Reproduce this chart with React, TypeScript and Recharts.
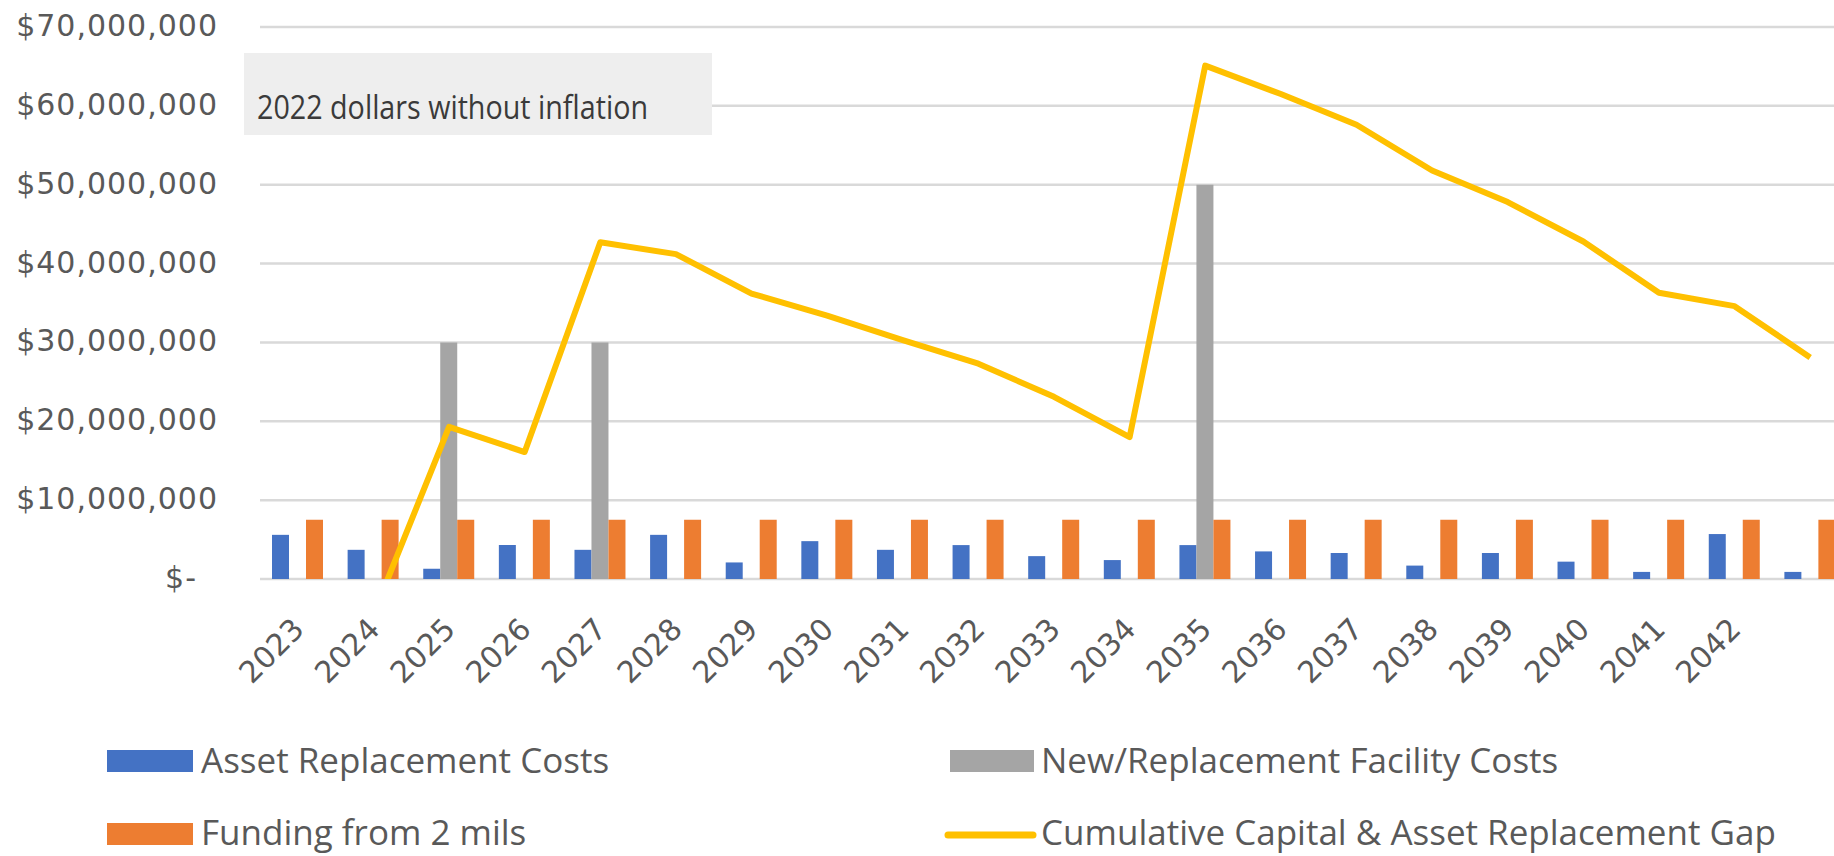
import { ComposedChart, Bar, Line, XAxis, YAxis, CartesianGrid, Legend } from 'recharts';

// values in millions of 2022 dollars
const years = [
  '2023', '2024', '2025', '2026', '2027', '2028', '2029', '2030', '2031', '2032', '2033',
  '2034', '2035', '2036', '2037', '2038', '2039', '2040', '2041', '2042', '',
];
const assetReplacement = [5.6, 3.7, 1.3, 4.3, 3.7, 5.6, 2.1, 4.8, 3.7, 4.3, 2.9, 2.4, 4.3, 3.5, 3.3, 1.7, 3.3, 2.2, 0.9, 5.7, 0.9];
const newFacility = [null, null, 30, null, 30, null, null, null, null, null, null, null, 50, null, null, null, null, null, null, null, null];
const fundingTwoMils = [7.5, 7.5, 7.5, 7.5, 7.5, 7.5, 7.5, 7.5, 7.5, 7.5, 7.5, 7.5, 7.5, 7.5, 7.5, 7.5, 7.5, 7.5, 7.5, 7.5, 7.5];
const cumulativeGap = [-1.5, -4.5, 19.3, 16.1, 42.7, 41.2, 36.2, 33.4, 30.3, 27.3, 23.1, 18.0, 65.1, 61.5, 57.6, 51.8, 47.8, 42.8, 36.3, 34.6, 28.1];
const yTicks = [0, 10, 20, 30, 40, 50, 60, 70];

const data = years.map((year, i) => ({
  year,
  asset: assetReplacement[i],
  facility: newFacility[i],
  funding: fundingTwoMils[i],
  gap: cumulativeGap[i],
}));

const TEXT = '#595959';
const AXIS_FONT = 'DejaVu Sans, sans-serif';
const LEGEND_FONT = '"Open Sans", sans-serif';

function YTick({ x, y, payload }: any) {
  const v = payload.value as number;
  const label = v === 0 ? '$-' : '$' + (v * 1000000).toLocaleString('en-US');
  return (
    <text x={v === 0 ? x - 21 : x} y={y + 9} textAnchor="end" fill={TEXT}
      fontFamily={AXIS_FONT} fontSize={30} letterSpacing={1}>
      {label}
    </text>
  );
}

function XTick({ x, y, payload }: any) {
  return (
    <g transform={`translate(${x + 8},${y + 52})`}>
      <text textAnchor="end" transform="rotate(-45)" fill={TEXT}
        fontFamily={AXIS_FONT} fontSize={30}>
        {payload.value}
      </text>
    </g>
  );
}

function ChartLegend() {
  const t = { fontFamily: LEGEND_FONT, fontSize: 35, fill: TEXT };
  return (
    <svg width={1834} height={126} style={{ display: 'block' }}>
      <rect x={107} y={20} width={86} height={22} fill="#4472C4" />
      <text x={201} y={43} {...t}>Asset Replacement Costs</text>
      <rect x={950} y={20} width={84} height={22} fill="#A5A5A5" />
      <text x={1041} y={43} {...t}>New/Replacement Facility Costs</text>
      <rect x={107} y={93} width={86} height={22} fill="#ED7D31" />
      <text x={201} y={115} {...t}>Funding from 2 mils</text>
      <line x1={948} x2={1033} y1={105} y2={105} stroke="#FFC000" strokeWidth={7} strokeLinecap="round" />
      <text x={1041} y={115} {...t}>Cumulative Capital &amp; Asset Replacement Gap</text>
    </svg>
  );
}

export default function App() {
  return (
    <div style={{ position: 'fixed', left: 0, top: 0, width: 1834, height: 856, overflow: 'hidden', background: '#fff' }}>
      <ComposedChart width={1870} height={856} data={data}
        margin={{ top: 27, right: 22, left: 0, bottom: 0 }} barGap={0}>
        <CartesianGrid vertical={false} stroke="#d9d9d9" strokeWidth={2.5} />
        <g>
          <rect x={244} y={53} width={468} height={82} fill="#eeeeee" />
          <text x={257} y={119} textLength={391} lengthAdjust="spacingAndGlyphs"
            fontFamily={LEGEND_FONT} fontSize={33} fill="#3a3a3a">
            2022 dollars without inflation
          </text>
        </g>
        <XAxis dataKey="year" axisLine={false} tickLine={false} tickSize={0} tickMargin={0}
          height={151} interval={0} tick={<XTick />} />
        <YAxis domain={[0, 70]} ticks={yTicks} allowDataOverflow axisLine={false} tickLine={false}
          tickSize={0} tickMargin={42} width={260} tick={<YTick />} />
        <Legend verticalAlign="bottom" wrapperStyle={{ top: 730, left: 0, width: 1834, height: 126 }}
          content={() => <ChartLegend />} />
        <Bar dataKey="asset" name="Asset Replacement Costs" fill="#4472C4" barSize={17} isAnimationActive={false} />
        <Bar dataKey="facility" name="New/Replacement Facility Costs" fill="#A5A5A5" barSize={17} isAnimationActive={false} />
        <Bar dataKey="funding" name="Funding from 2 mils" fill="#ED7D31" barSize={17} isAnimationActive={false} />
        <Line dataKey="gap" name="Cumulative Capital & Asset Replacement Gap" stroke="#FFC000" strokeWidth={6}
          strokeLinejoin="round" dot={false} activeDot={false} isAnimationActive={false} />
      </ComposedChart>
    </div>
  );
}
